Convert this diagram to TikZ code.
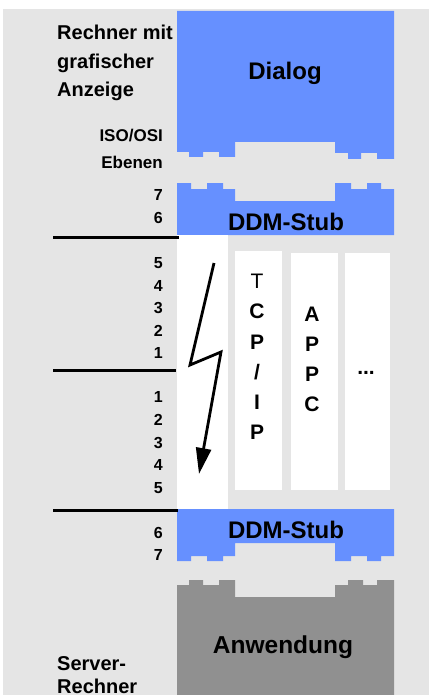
\documentclass[tikz,border=0pt]{standalone}
\usepackage{fontspec}
\setmainfont{Liberation Sans}
\usetikzlibrary{arrows.meta}
\definecolor{bg}{HTML}{E5E5E5}
\definecolor{ddmblue}{HTML}{6690FF}
\definecolor{appgray}{HTML}{909090}
\begin{document}
\begin{tikzpicture}[x=1pt,y=-1pt,
  side/.style={inner sep=0pt, font=\bfseries\fontsize{20}{24}\selectfont},
  small/.style={inner sep=0pt, font=\bfseries\fontsize{17}{20}\selectfont},
  num/.style={inner sep=0pt, anchor=east, font=\bfseries\fontsize{16}{19}\selectfont},
  big/.style={inner sep=0pt, font=\bfseries\fontsize{24}{28}\selectfont},
  col/.style={inner sep=0pt, font=\bfseries\fontsize{21}{24}\selectfont},
  sep/.style={line width=3pt},
  bolt/.style={line width=2.8pt, line join=miter, -{Triangle[length=26pt,width=15pt]}},
  whitebox/.style={fill=white}]
\useasboundingbox (0,0) rectangle (429,695);
\fill[bg] (3,9) rectangle (429,695);
% Dialog
\fill[ddmblue] (177,11) -- (394,11) -- (394,159) -- (377,159) -- (377,153) -- (361,153) -- (361,159) -- (348,159) -- (348,153) -- (335,153) -- (335,142) -- (235,142) -- (235,157) -- (219,157) -- (219,152) -- (203,152) -- (203,157) -- (189,157) -- (189,152) -- (177,152) -- cycle;
% DDM-Stub top
\fill[ddmblue] (177,183) -- (191,183) -- (191,189) -- (207,189) -- (207,183) -- (223,183) -- (223,189) -- (235,189) -- (235,201) -- (335,201) -- (335,183) -- (351,183) -- (351,189) -- (367,189) -- (367,183) -- (381,183) -- (381,189) -- (394,189) -- (394,235) -- (177,235) -- cycle;
% white columns
\fill[whitebox] (177,235) rectangle (228,509);
\fill[whitebox] (235,251) rectangle (282,490);
\fill[whitebox] (291,253) rectangle (338,490);
\fill[whitebox] (345,253) rectangle (390,490);
% DDM-Stub bottom
\fill[ddmblue] (177,509) -- (394,509) -- (394,556) -- (381,556) -- (381,561) -- (367,561) -- (367,556) -- (351,556) -- (351,561) -- (335,561) -- (335,543) -- (235,543) -- (235,556) -- (223,556) -- (223,561) -- (207,561) -- (207,556) -- (191,556) -- (191,561) -- (177,561) -- cycle;
% Anwendung
\fill[appgray] (177,585) -- (189,585) -- (189,580) -- (203,580) -- (203,585) -- (219,585) -- (219,580) -- (235,580) -- (235,597) -- (335,597) -- (335,585) -- (348,585) -- (348,580) -- (363,580) -- (363,585) -- (377,585) -- (377,580) -- (394,580) -- (394,695) -- (177,695) -- cycle;
% separator lines
\coordinate (l1a) at (53,237.5); \coordinate (l1b) at (179,237.5);
\coordinate (l2a) at (53,370);   \coordinate (l2b) at (176,370);
\coordinate (l3a) at (53,510.5); \coordinate (l3b) at (178,510.5);
\draw[sep] (l1a) -- (l1b);
\draw[sep] (l2a) -- (l2b);
\draw[sep] (l3a) -- (l3b);
% lightning
\coordinate (z1) at (214,263);
\coordinate (z2) at (190,365);
\coordinate (z3) at (221,352);
\coordinate (z4) at (199,474);
\draw[bolt] (z1) -- (z2) -- (z3) -- (z4);
% labels
\node[side, anchor=base west] (t1) at (57,40) {Rechner mit};
\node[side, anchor=base west] (t2) at (57,69) {grafischer};
\node[side, anchor=base west] (t3) at (57,97) {Anzeige};
\node[small, anchor=base east] (iso) at (163,142) {ISO/OSI};
\node[small, anchor=base east] (eb) at (163,168) {Ebenen};
\node[big, anchor=base] (dialog) at (285,80) {Dialog};
\node[big, anchor=base] (ddm1) at (286,230) {DDM-Stub};
\node[big, anchor=base] (ddm2) at (286,538) {DDM-Stub};
\node[big, anchor=base, font=\bfseries\fontsize{24.5}{28}\selectfont] (app) at (283,653) {Anwendung};
\node[side, anchor=base west] (s1) at (57,670) {Server-};
\node[side, anchor=base west] (s2) at (57,693) {Rechner};
% layer numbers
\node[num] (n7a) at (163,195) {7};
\node[num] (n6a) at (163,218) {6};
\node[num] (u5) at (163,263) {5};
\node[num] (u4) at (163,285.5) {4};
\node[num] (u3) at (163,308) {3};
\node[num] (u2) at (163,330.5) {2};
\node[num] (u1) at (163,353) {1};
\node[num] (d1) at (163,397) {1};
\node[num] (d2) at (163,420) {2};
\node[num] (d3) at (163,443) {3};
\node[num] (d4) at (163,465) {4};
\node[num] (d5) at (163,488) {5};
\node[num] (n6b) at (163,533) {6};
\node[num] (n7b) at (163,555) {7};
% TCP/IP column
\node[col, font=\fontsize{21}{24}\selectfont] (c1) at (257,281) {T};
\node[col] (c2) at (257,311) {C};
\node[col] (c3) at (257,342) {P};
\node[col] (c4) at (257,372) {/};
\node[col] (c5) at (257,402) {I};
\node[col] (c6) at (257,432) {P};
% APPC column
\node[col] (a1) at (312,314.5) {A};
\node[col] (a2) at (312,344) {P};
\node[col] (a3) at (312,374) {P};
\node[col] (a4) at (312,404) {C};
% dots column
\node[col] (dots) at (366,373) {...};
\end{tikzpicture}
\end{document}
